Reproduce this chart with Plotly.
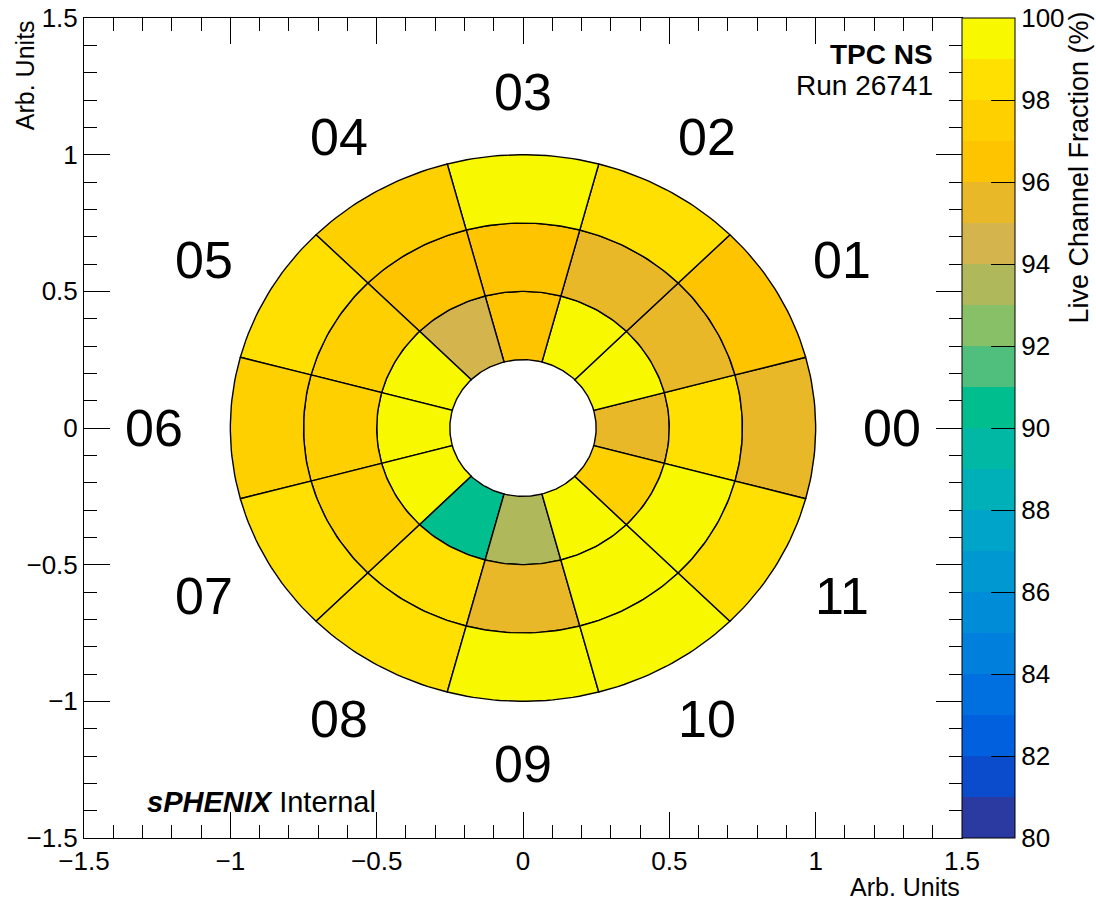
import numpy as np
import plotly.graph_objects as go

# ---------------- data ----------------
sector_ids = ["00", "01", "02", "03", "04", "05", "06", "07", "08", "09", "10", "11"]
ring_edges = [0.25, 0.5, 0.75, 1.0]  # inner, middle, outer ring boundaries (Arb. Units)
# live channel fraction (%) per sector: inner, middle, outer ring
live_inner = [95.5, 99.5, 99.5, 96.4, 94.6, 99.5, 99.6, 99.5, 90.6, 93.5, 99.5, 97.1]
live_middle = [98.5, 95.6, 95.5, 96.8, 96.7, 97.4, 97.2, 97.3, 98.4, 95.5, 99.5, 99.4]
live_outer = [95.4, 96.5, 98.5, 99.5, 97.4, 98.4, 97.3, 98.5, 98.6, 99.5, 99.5, 98.5]

z_min, z_max = 80, 100
cbar_ticks = [80, 82, 84, 86, 88, 90, 92, 94, 96, 98, 100]
palette = [
    "#2A3AA0", "#0A4CCC", "#0060DE", "#0070E0", "#0080DC",
    "#008CD6", "#0098D0", "#00A4C8", "#00B0B8", "#00B8A4",
    "#00BE8E", "#50BE7C", "#88C068", "#B0B85C", "#D4B44C",
    "#E8B828", "#FFC400", "#FFD000", "#FFE000", "#F8F800",
]

FONT = "Liberation Sans, Arial, Helvetica, sans-serif"


def color_of(v):
    n = len(palette)
    i = int(np.floor((v - z_min) / (z_max - z_min) * n))
    return palette[max(0, min(n - 1, i))]


fig = go.Figure()

rings = [live_inner, live_middle, live_outer]
half = np.deg2rad(15)
for s, sid in enumerate(sector_ids):
    center = np.deg2rad(30 * s)
    a = np.linspace(center - half, center + half, 24)
    for k, vals in enumerate(rings):
        r_in, r_out = ring_edges[k], ring_edges[k + 1]
        xs = np.concatenate([r_out * np.cos(a), r_in * np.cos(a[::-1])])
        ys = np.concatenate([r_out * np.sin(a), r_in * np.sin(a[::-1])])
        xs = np.append(xs, xs[0])
        ys = np.append(ys, ys[0])
        fig.add_trace(go.Scatter(
            x=xs, y=ys, mode="lines", fill="toself",
            fillcolor=color_of(vals[s]),
            line=dict(color="black", width=1.4),
            hoverinfo="skip", showlegend=False,
        ))

# colour scale (discrete steps)
n = len(palette)
cs = []
for i, c in enumerate(palette):
    cs.append([i / n, c])
    cs.append([(i + 1) / n, c])

fig.add_trace(go.Scatter(
    x=[0], y=[0], mode="markers",
    marker=dict(size=1, opacity=0, color=[90], colorscale=cs, cmin=z_min, cmax=z_max,
                showscale=True,
                colorbar=dict(
                    x=1.0, xanchor="left", xpad=0, y=0.5, yanchor="middle",
                    len=1.0, lenmode="fraction", ypad=0, thickness=53,
                    outlinewidth=1, outlinecolor="black",
                    tickvals=cbar_ticks, ticktext=[str(t) for t in cbar_ticks],
                    ticks="inside", ticklen=24, tickcolor="black", tickwidth=1,
                    tickfont=dict(family=FONT, size=26, color="black"),
                )),
    hoverinfo="skip", showlegend=False,
))

# sector labels
for s, sid in enumerate(sector_ids):
    ang = np.deg2rad(30 * s)
    fig.add_annotation(x=1.26 * np.cos(ang), y=1.23 * np.sin(ang), text=sid,
                       showarrow=False, xref="x", yref="y",
                       font=dict(family=FONT, size=52, color="black"))

axis_common = dict(
    range=[-1.5, 1.5], showgrid=False, zeroline=False, automargin=False,
    showline=True, linecolor="black", linewidth=1, mirror="allticks",
    ticks="inside", ticklen=26, tickwidth=1, tickcolor="black", dtick=0.5,
    tickfont=dict(family=FONT, size=26, color="black"),
    minor=dict(ticks="inside", ticklen=13, dtick=0.1, tickcolor="black",
               tickwidth=1, showgrid=False),
)
fig.update_layout(
    width=1096, height=903,
    margin=dict(l=84, r=134, t=18, b=65, autoexpand=False),
    paper_bgcolor="white", plot_bgcolor="white",
    xaxis=dict(**axis_common),
    yaxis=dict(**axis_common),
    showlegend=False,
)

# texts
fig.add_annotation(xref="paper", yref="paper", x=0.969, y=0.955, xanchor="right",
                   yanchor="middle", showarrow=False, text="<b>TPC NS</b>",
                   font=dict(family=FONT, size=28, color="black"))
fig.add_annotation(xref="paper", yref="paper", x=0.969, y=0.918, xanchor="right",
                   yanchor="middle", showarrow=False, text="Run 26741",
                   font=dict(family=FONT, size=28, color="black"))
fig.add_annotation(xref="paper", yref="paper", x=0.069, y=0.044, xanchor="left",
                   yanchor="middle", showarrow=False,
                   text="<b><i>sPHENIX</i></b> Internal",
                   font=dict(family=FONT, size=29, color="black"))
# axis titles
fig.add_annotation(xref="paper", yref="paper", x=1.0, y=-0.0598, xanchor="right",
                   yanchor="middle", showarrow=False, text="Arb. Units",
                   font=dict(family=FONT, size=25, color="black"))
fig.add_annotation(xref="paper", yref="paper", x=-0.067, y=1.0, xanchor="center",
                   yanchor="top", showarrow=False, text="Arb. Units", textangle=-90,
                   font=dict(family=FONT, size=25, color="black"))
fig.add_annotation(xref="paper", yref="paper", x=1.133, y=1.01, xanchor="center",
                   yanchor="top", showarrow=False, text="Live Channel Fraction (%)",
                   textangle=-90, font=dict(family=FONT, size=27, color="black"))

fig.write_html(
    "out.html",
    config={"displayModeBar": False},
    post_script="document.body.style.margin='0';document.body.style.overflow='hidden';",
)
